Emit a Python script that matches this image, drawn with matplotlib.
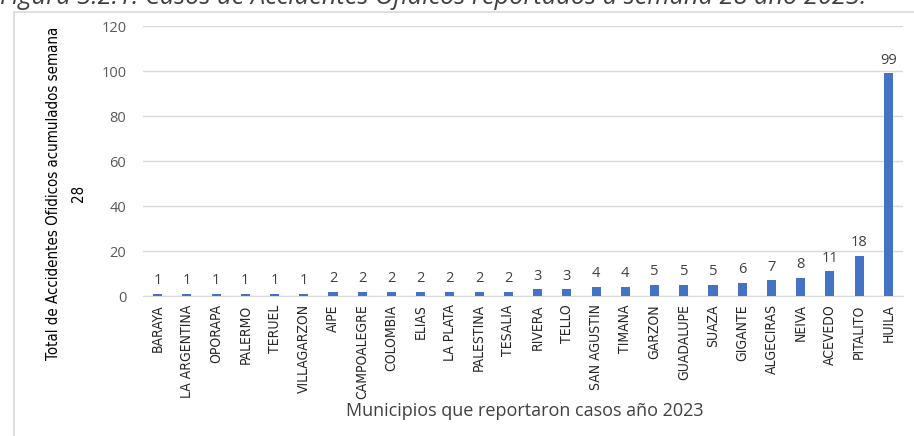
import matplotlib.pyplot as plt
from matplotlib.patches import Rectangle

municipios = [
    "BARAYA", "LA ARGENTINA", "OPORAPA", "PALERMO", "TERUEL", "VILLAGARZON",
    "AIPE", "CAMPOALEGRE", "COLOMBIA", "ELIAS", "LA PLATA", "PALESTINA",
    "TESALIA", "RIVERA", "TELLO", "SAN AGUSTIN", "TIMANA", "GARZON",
    "GUADALUPE", "SUAZA", "GIGANTE", "ALGECIRAS", "NEIVA", "ACEVEDO",
    "PITALITO", "HUILA",
]
casos = [1, 1, 1, 1, 1, 1, 2, 2, 2, 2, 2, 2, 2, 3, 3, 4, 4, 5, 5, 5, 6, 7, 8, 11, 18, 99]
y_ticks = [0, 20, 40, 60, 80, 100, 120]

narrow = ["DejaVu Sans"]
wide = ["Open Sans", "DejaVu Sans"]
bar_color = "#4472C4"
grey_text = "#595959"

W, H = 914, 436
fig = plt.figure(figsize=(W / 100, H / 100), dpi=100)

# outer chart frame
fig.patches.append(Rectangle((14 / W, -0.05), 1.0, 1 - 12 / H + 0.05,
                             transform=fig.transFigure, fill=False,
                             edgecolor="#D9D9D9", linewidth=1.2))

fig.text(0.0, 1 - 4 / H, "Figura 3.2.1. Casos de Accidentes Ofídicos reportados a semana 28 año 2023.",
         family=wide, style="italic", fontsize=18.3, va="baseline", ha="left", color="#404040")

ax = fig.add_axes([143 / W, 1 - 296 / H, 760 / W, 270 / H])
x = range(len(municipios))
ax.bar(x, casos, width=0.31, color=bar_color, zorder=3)

for xi, v in zip(x, casos):
    ax.annotate(str(v), (xi, v), xytext=(0, 4), textcoords="offset points",
                ha="center", va="bottom", fontsize=10.5, family=wide, color="#404040")

ax.set_xlim(-0.5, len(municipios) - 0.5)
ax.set_ylim(0, 120)
ax.set_yticks(y_ticks)
ax.yaxis.grid(True, color="#D9D9D9", linewidth=1.0, zorder=0)
ax.set_axisbelow(True)
for side in ["top", "right", "left"]:
    ax.spines[side].set_visible(False)
ax.spines["bottom"].set_color("#D9D9D9")
ax.tick_params(axis="both", length=0)
ax.tick_params(axis="y", pad=12, labelcolor=grey_text)
ax.tick_params(axis="x", pad=6)

ax.set_xticks(list(x))
ax.set_xticklabels(municipios, rotation=90, family=narrow, fontstretch="condensed",
                   fontsize=10, color="#262626")
for lab in ax.get_yticklabels():
    lab.set_family(wide)
    lab.set_fontsize(10.5)

fig.text(66 / W, 1 - 193 / H, "Total de Accidentes Ofidicos acumulados semana\n28",
         rotation=90, ha="center", va="center", family=narrow, fontstretch="condensed",
         fontsize=10.8, linespacing=1.9, multialignment="center")
fig.text(525 / W, 1 - 411 / H, "Municipios que reportaron casos año 2023",
         ha="center", va="center", family=wide, fontsize=13, color="#404040")

fig.savefig("out.png", dpi=100)
